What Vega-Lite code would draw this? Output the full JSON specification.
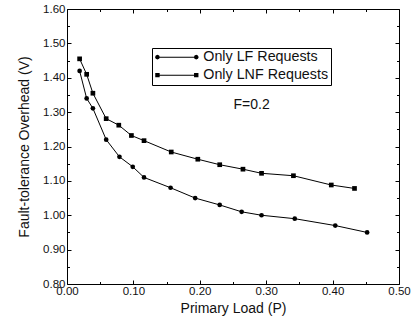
{
  "$schema": "https://vega.github.io/schema/vega-lite/v6.json",
  "width": 332,
  "height": 275,
  "autosize": {"type": "none"},
  "padding": {"left": 67, "top": 9, "right": 12, "bottom": 36},
  "background": "white",
  "config": {
    "view": {"stroke": null},
    "font": "Liberation Sans",
    "axis": {
      "grid": false,
      "labelFlush": false,
      "labelOverlap": false,
      "domainColor": "black",
      "tickColor": "black",
      "labelColor": "#111",
      "labelFont": "Liberation Sans",
      "labelFontSize": 11.5,
      "titleFont": "Liberation Sans",
      "titleFontSize": 14,
      "titleFontWeight": "normal",
      "titleColor": "#111"
    }
  },
  "data": {
    "values": [
      {"series": "Only LF Requests", "x": 0.019, "y": 1.42},
      {"series": "Only LF Requests", "x": 0.0296, "y": 1.34},
      {"series": "Only LF Requests", "x": 0.039, "y": 1.311},
      {"series": "Only LF Requests", "x": 0.059, "y": 1.22},
      {"series": "Only LF Requests", "x": 0.079, "y": 1.17},
      {"series": "Only LF Requests", "x": 0.099, "y": 1.141},
      {"series": "Only LF Requests", "x": 0.116, "y": 1.11},
      {"series": "Only LF Requests", "x": 0.156, "y": 1.08},
      {"series": "Only LF Requests", "x": 0.193, "y": 1.05},
      {"series": "Only LF Requests", "x": 0.23, "y": 1.03},
      {"series": "Only LF Requests", "x": 0.263, "y": 1.01},
      {"series": "Only LF Requests", "x": 0.293, "y": 1.0},
      {"series": "Only LF Requests", "x": 0.343, "y": 0.99},
      {"series": "Only LF Requests", "x": 0.404, "y": 0.97},
      {"series": "Only LF Requests", "x": 0.452, "y": 0.95},
      {"series": "Only LNF Requests", "x": 0.019, "y": 1.455},
      {"series": "Only LNF Requests", "x": 0.0296, "y": 1.41},
      {"series": "Only LNF Requests", "x": 0.039, "y": 1.355},
      {"series": "Only LNF Requests", "x": 0.059, "y": 1.281},
      {"series": "Only LNF Requests", "x": 0.078, "y": 1.262},
      {"series": "Only LNF Requests", "x": 0.097, "y": 1.232},
      {"series": "Only LNF Requests", "x": 0.116, "y": 1.217},
      {"series": "Only LNF Requests", "x": 0.157, "y": 1.184},
      {"series": "Only LNF Requests", "x": 0.197, "y": 1.163},
      {"series": "Only LNF Requests", "x": 0.23, "y": 1.147},
      {"series": "Only LNF Requests", "x": 0.265, "y": 1.134},
      {"series": "Only LNF Requests", "x": 0.293, "y": 1.122},
      {"series": "Only LNF Requests", "x": 0.341, "y": 1.115},
      {"series": "Only LNF Requests", "x": 0.398, "y": 1.088},
      {"series": "Only LNF Requests", "x": 0.433, "y": 1.078}
    ]
  },
  "layer": [
    {
      "mark": {"type": "line", "color": "black", "strokeWidth": 1},
      "encoding": {
        "x": {"field": "x", "type": "quantitative", "scale": {"domain": [0, 0.5], "nice": false, "zero": false},
          "axis": {"orient": "bottom", "title": "Primary Load (P)", "values": [0, 0.1, 0.2, 0.3, 0.4, 0.5], "format": ".2f", "tickSize": -4, "labelPadding": 5, "titlePadding": 5, "domain": true}},
        "y": {"field": "y", "type": "quantitative", "scale": {"domain": [0.8, 1.6], "nice": false, "zero": false},
          "axis": {"orient": "left", "title": "Fault-tolerance Overhead (V)", "values": [0.8, 0.9, 1.0, 1.1, 1.2, 1.3, 1.4, 1.5, 1.6], "format": ".2f", "tickSize": -4, "labelPadding": 6, "titlePadding": 11, "domain": true}},
        "detail": {"field": "series"}
      }
    },
    {
      "mark": {"type": "point", "filled": true, "color": "black", "opacity": 1, "size": 22},
      "encoding": {
        "x": {"field": "x", "type": "quantitative",
          "axis": {"orient": "bottom", "title": null, "labels": false, "values": [0.05, 0.15, 0.25, 0.35, 0.45], "tickSize": -2.5, "domain": false}},
        "y": {"field": "y", "type": "quantitative",
          "axis": {"orient": "left", "title": null, "labels": false, "values": [0.85, 0.95, 1.05, 1.15, 1.25, 1.35, 1.45, 1.55], "tickSize": -2.5, "domain": false}},
        "shape": {"field": "series", "type": "nominal", "scale": {"domain": ["Only LF Requests", "Only LNF Requests"], "range": ["circle", "square"]}, "legend": null}
      }
    },
    {
      "mark": {"type": "point", "filled": true, "color": "black", "opacity": 0},
      "encoding": {
        "x": {"field": "x", "type": "quantitative",
          "axis": {"orient": "top", "title": null, "labels": false, "values": [0, 0.1, 0.2, 0.3, 0.4, 0.5], "tickSize": -4, "domain": true}},
        "y": {"field": "y", "type": "quantitative",
          "axis": {"orient": "right", "title": null, "labels": false, "values": [0.8, 0.9, 1.0, 1.1, 1.2, 1.3, 1.4, 1.5, 1.6], "tickSize": -4, "domain": true}},
        "shape": {"field": "series", "type": "nominal",
          "scale": {"domain": ["Only LF Requests", "Only LNF Requests"],
            "range": [
              "M-0.925,-0.125H8.775V0.125H-0.925ZM-0.325,0L-0.501,0.424L-0.925,0.6L-1.349,0.424L-1.525,0L-1.349,-0.424L-0.925,-0.6L-0.501,-0.424ZM9.375,0L9.199,0.424L8.775,0.6L8.351,0.424L8.175,0L8.351,-0.424L8.775,-0.6L9.199,-0.424Z",
              "M-0.925,-0.125H8.775V0.125H-0.925ZM-1.475,-0.55H-0.375V0.55H-1.475ZM8.225,-0.55H9.325V0.55H8.225Z"
            ]},
          "legend": {
            "title": null, "orient": "none", "legendX": 85, "legendY": 39,
            "strokeColor": "black", "fillColor": "white", "padding": 2,
            "symbolSize": 64, "symbolStrokeWidth": 0, "symbolFillColor": "black", "symbolStrokeColor": "black", "symbolOpacity": 1,
            "labelFont": "Liberation Sans", "labelFontSize": 14.3, "labelColor": "#111", "labelOffset": 35, "rowPadding": 3, "labelLimit": 300,
            "encode": {"symbols": {"update": {"fill": {"value": "black"}, "opacity": {"value": 1}, "fillOpacity": {"value": 1}}}}
          }}
      }
    },
    {
      "data": {"values": [{"label": "F=0.2"}]},
      "mark": {"type": "text", "fontSize": 14, "font": "Liberation Sans", "color": "#111", "align": "center", "baseline": "middle"},
      "encoding": {
        "x": {"datum": 0.278, "type": "quantitative",
          "axis": {"orient": "top", "title": null, "labels": false, "values": [0.05, 0.15, 0.25, 0.35, 0.45], "tickSize": -2.5, "domain": false}},
        "y": {"datum": 1.321, "type": "quantitative",
          "axis": {"orient": "right", "title": null, "labels": false, "values": [0.85, 0.95, 1.05, 1.15, 1.25, 1.35, 1.45, 1.55], "tickSize": -2.5, "domain": false}},
        "text": {"field": "label"}
      }
    }
  ],
  "resolve": {"scale": {"shape": "independent"}, "axis": {"x": "independent", "y": "independent"}}
}
